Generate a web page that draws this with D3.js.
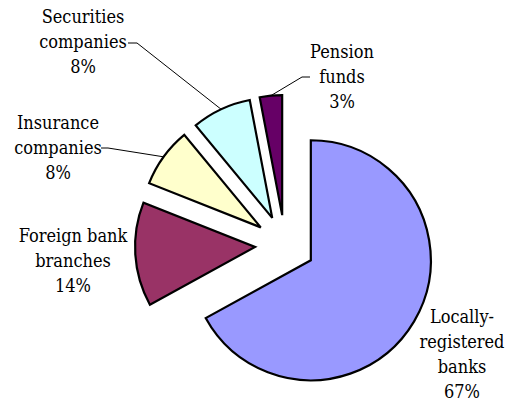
<!DOCTYPE html>
<html>
<head>
<meta charset="utf-8">
<script src="https://cdn.jsdelivr.net/npm/d3@7"></script>
<style>
  html, body { margin: 0; padding: 0; background: #fff; }
  svg { display: block; }
</style>
</head>
<body>
<svg id="chart" width="509" height="407"></svg>
<script>
// Market share by type of institution
const categories = ["Locally-registered banks", "Foreign bank branches", "Insurance companies", "Securities companies", "Pension funds"];
const shares = [67, 14, 8, 8, 3];
const labelLines = [
  ["Locally-", "registered", "banks", "67%"],
  ["Foreign bank", "branches", "14%"],
  ["Insurance", "companies", "8%"],
  ["Securities", "companies", "8%"],
  ["Pension", "funds", "3%"]
];
const colors = ["#9999FF", "#993366", "#FFFFCC", "#CCFFFF", "#660066"];

// Layout
const width = 509, height = 407;
const cx = 285, cy = 245, radius = 120, explode = 30;
const lineHeight = 25;
const fontFamily = "'DejaVu Serif Condensed', 'DejaVu Serif', serif";
const fontSize = 18;
// Label block: centre x, first baseline, and optional leader attach point (end of text line)
const labelPlacement = [
  { x: 462, y: 323 },
  { x: 73,  y: 242 },
  { x: 58,  y: 129, leader: { x: 101, y: 148, elbow: 108 } },
  { x: 83,  y: 23,  leader: { x: 128, y: 43,  elbow: 137 } },
  { x: 342, y: 58,  leader: { x: 310, y: 77,  elbow: 302 } }
];

const svg = d3.select("#chart");
const g = svg.append("g").attr("transform", `translate(${cx},${cy})`);

const pie = d3.pie().sort(null).value(d => d.value).startAngle(0).endAngle(2 * Math.PI);
const data = categories.map((c, i) => ({ name: c, value: shares[i], i }));
const arcs = pie(data);

const arc = d3.arc().innerRadius(0).outerRadius(radius);

// Unit vector along a slice's bisector (0 rad = 12 o'clock, clockwise)
function dir(a) {
  const mid = (a.startAngle + a.endAngle) / 2;
  return [Math.sin(mid), -Math.cos(mid)];
}

// Exploded slices
g.selectAll("path.slice")
  .data(arcs)
  .join("path")
  .attr("class", "slice")
  .attr("transform", d => {
    const [dx, dy] = dir(d);
    return `translate(${dx * explode},${dy * explode})`;
  })
  .attr("d", arc)
  .attr("fill", d => colors[d.data.i])
  .attr("stroke", "#000")
  .attr("stroke-width", 2.2);

// Leader lines from the outer arc midpoint to the label
arcs.forEach(d => {
  const p = labelPlacement[d.data.i];
  if (!p.leader) return;
  const [dx, dy] = dir(d);
  const ex = cx + dx * (radius + explode);
  const ey = cy + dy * (radius + explode);
  svg.append("polyline")
    .attr("points", `${p.leader.x},${p.leader.y} ${p.leader.elbow},${p.leader.y} ${ex},${ey}`)
    .attr("fill", "none")
    .attr("stroke", "#000")
    .attr("stroke-width", 1);
});

// Category labels with percentages
arcs.forEach(d => {
  const p = labelPlacement[d.data.i];
  const t = svg.append("text")
    .attr("text-anchor", "middle")
    .style("font-family", fontFamily)
    .style("font-stretch", "condensed")
    .attr("font-size", fontSize)
    .attr("fill", "#000");
  labelLines[d.data.i].forEach((line, k) => {
    t.append("tspan").attr("x", p.x).attr("y", p.y + k * lineHeight).text(line);
  });
});
</script>
</body>
</html>
